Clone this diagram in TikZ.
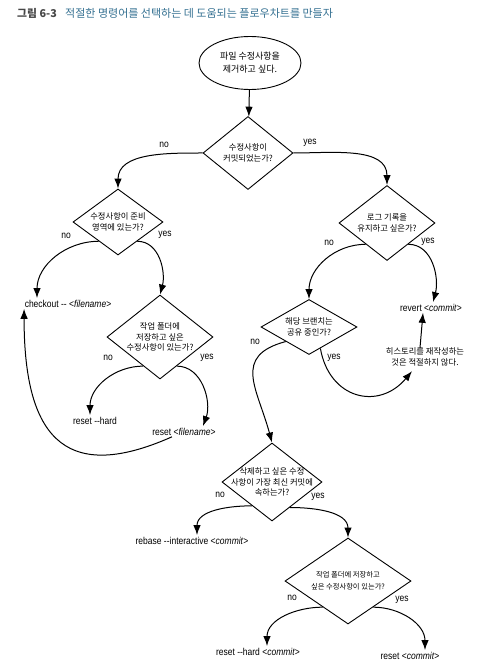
\documentclass[tikz,border=0pt]{standalone}
\usepackage{fontspec}
\setmainfont{Noto Sans CJK KR}
\newfontfamily\cmdfont[FakeStretch=0.85]{Liberation Sans}
\usetikzlibrary{shapes.geometric,arrows.meta}
\definecolor{capblue}{RGB}{52,112,145}
\definecolor{capgray}{RGB}{70,70,70}

\begin{document}
\begin{tikzpicture}[x=1pt, y=1pt,
    decision/.style={draw, diamond, inner sep=0pt, line width=0.9pt},
    qtext/.style={align=center, inner sep=0pt, font=\fontsize{8.3}{10.5}\selectfont},
    cmd/.style={anchor=base, inner sep=1.5pt, font=\cmdfont\fontsize{10}{12}\selectfont},
    answer/.style={inner sep=0pt, font=\cmdfont\fontsize{10}{12}\selectfont},
    flow/.style={-{Latex[length=10pt,width=7.5pt]}, line width=1pt}]
    \useasboundingbox (0,0) rectangle (486,-671);

    % Titulo
    \node[anchor=base west, inner sep=0pt, text=capgray, font=\fontsize{10.8}{12}\selectfont\bfseries] (fignum) at (17,-17.5) {그림 6-3};
    \node[anchor=base west, inner sep=0pt, text=capblue, font=\fontsize{11}{13}\selectfont] (caption) at (65,-17.5) {적절한 명령어를 선택하는 데 도움되는 플로우차트를 만들자};

    % Inicio
    \node[draw, ellipse, minimum width=102pt, minimum height=53pt, inner sep=0pt, line width=0.9pt,
          align=center, font=\fontsize{9}{13}\selectfont] (start) at (250,-63) {파일 수정사항을\\제거하고 싶다.};

    % Preguntas
    \node[decision, minimum width=90pt, minimum height=73pt, label={[qtext]center:{수정사항이\\커밋되었는가?}}] (d1) at (248,-153) {};
    \node[decision, minimum width=90pt, minimum height=66pt, label={[qtext]center:{수정사항이 준비\\영역에 있는가?}}] (d2) at (118,-222) {};
    \node[decision, minimum width=106pt, minimum height=84pt, label={[qtext]center:{작업 폴더에\\저장하고 싶은\\수정사항이 있는가?}}] (d3) at (160,-337) {};
    \node[decision, minimum width=96pt, minimum height=75pt, label={[qtext]center:{로그 기록을\\유지하고 싶은가?}}] (d4) at (387,-223) {};
    \node[decision, minimum width=96pt, minimum height=55pt, label={[qtext]center:{해당 브랜치는\\공유 중인가?}}] (d5) at (309,-327) {};
    \node[decision, minimum width=100pt, minimum height=78pt, label={[qtext]center:{삭제하고 싶은 수정\\사항이 가장 최신 커밋에\\속하는가?}}] (d6) at (272,-482) {};
    \node[decision, minimum width=126pt, minimum height=86pt, label={[qtext, font=\fontsize{7.3}{12}\selectfont]center:{작업 폴더에 저장하고\\싶은 수정사항이 있는가?}}] (d7) at (348,-581) {};

    % Comandos
    \node[cmd] (chk) at (68,-307) {checkout -{}- <\textit{filename}>};
    \node[cmd] (hard) at (95,-424) {reset -{}-hard};
    \node[cmd] (fn) at (184,-435) {reset <\textit{filename}>};
    \node[cmd] (rev) at (431,-311) {revert <\textit{commit}>};
    \node[cmd] (reb) at (192,-544) {rebase -{}-interactive <\textit{commit}>};
    \node[cmd] (hc) at (258,-655) {reset -{}-hard <\textit{commit}>};
    \node[cmd] (rc) at (410,-659) {reset <\textit{commit}>};
    \node[qtext] (note) at (425,-357) {히스토리를 재작성하는\\것은 적절하지 않다.};

    % Respuestas
    \node[answer] (no1) at (164,-145) {no};
    \node[answer] (yes1) at (310,-143) {yes};
    \node[answer] (no2) at (66,-236) {no};
    \node[answer] (yes2) at (165,-235) {yes};
    \node[answer] (no3) at (108,-358) {no};
    \node[answer] (yes3) at (207,-358) {yes};
    \node[answer] (no4) at (329,-243) {no};
    \node[answer] (yes4) at (428,-242) {yes};
    \node[answer] (no5) at (255,-342) {no};
    \node[answer] (yes5) at (334,-358) {yes};
    \node[answer] (no6) at (220,-495) {no};
    \node[answer] (yes6) at (318,-497) {yes};
    \node[answer] (no7) at (292,-598) {no};
    \node[answer] (yes7) at (402,-600) {yes};

    % Flechas
    \draw[flow] (start) -- (d1);
    \draw[flow] (d1.west) to[out=180,in=90] (d2.north);
    \draw[flow] (d1.east) to[out=0,in=90] (d4.north);
    \draw[flow] (d2.225) to[out=180,in=90] ([xshift=-31pt]chk.north);
    \draw[flow] (d2.315) to[out=0,in=75] (d3.north);
    \draw[flow] (d3.240) to[out=180,in=90] ([xshift=-5pt]hard.north);
    \draw[flow] (d3.300) to[out=0,in=70] ([xshift=19pt]fn.north);
    \draw[flow] ([xshift=-12pt]fn.south) to[out=204,in=-90,looseness=1.6] ([xshift=1pt]chk.south west);
    \draw[flow] (d4.225) to[out=180,in=90] (d5.north);
    \draw[flow] (d4.315) to[out=0,in=75] ([xshift=2pt]rev.north);
    \draw[flow] (d5.212) to[out=195,in=105,looseness=1.4] (d6.north);
    \draw[flow] (d5.298) to[out=-80,in=230,looseness=1.4] ([xshift=-13pt,yshift=-5pt]note.south);
    \draw[flow] ([xshift=-5pt]note.north) -- ([xshift=-8pt]rev.south);
    \draw[flow] (d6.230) to[out=180,in=90] ([xshift=5pt]reb.north);
    \draw[flow] (d6.305) to[out=0,in=90] (d7.north);
    \draw[flow] (d7.226) to[out=180,in=90] ([xshift=9pt]hc.north);
    \draw[flow] (d7.314) to[out=0,in=90] ([xshift=15pt]rc.north);
\end{tikzpicture}
\end{document}
